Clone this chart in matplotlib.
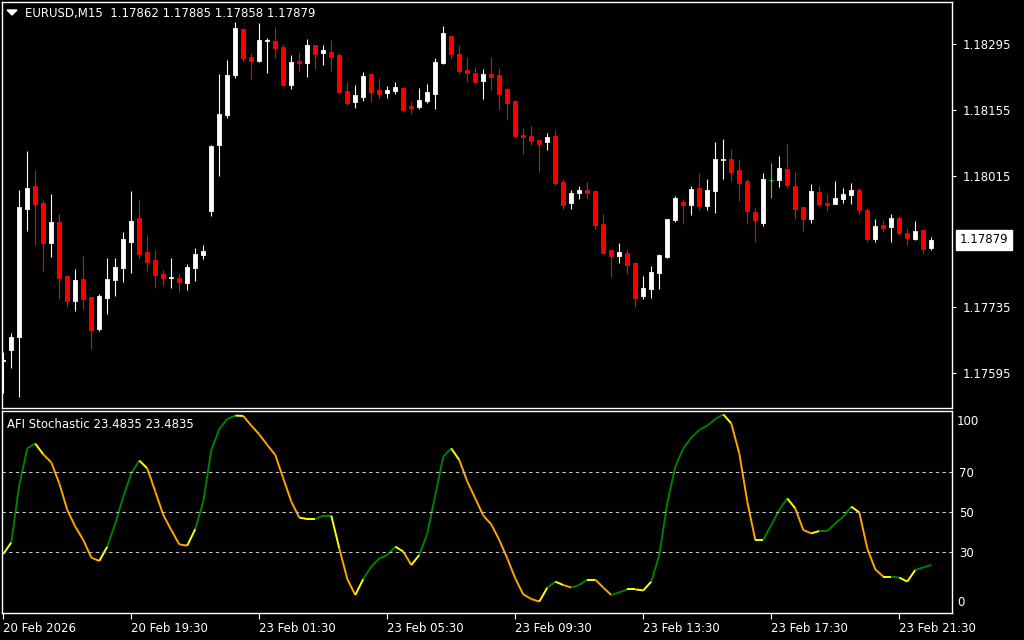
import matplotlib
matplotlib.use('Agg')
import matplotlib.pyplot as plt
import numpy as np
from matplotlib.collections import LineCollection
from matplotlib.patches import Polygon

symbol = 'EURUSD,M15'

opens = [1.17621, 1.17644, 1.17672, 1.17945, 1.17993, 1.17957, 1.17872, 1.17917, 1.17802, 1.17748,
         1.17795, 1.17757, 1.17689, 1.17755, 1.17793, 1.17819, 1.17874, 1.17925, 1.17853, 1.17836,
         1.17806, 1.17798, 1.17797, 1.17787, 1.17819, 1.17846, 1.17940, 1.18080, 1.18144, 1.18229,
         1.18327, 1.18268, 1.18259, 1.18302, 1.18302, 1.18289, 1.18208, 1.18259, 1.18255, 1.18293,
         1.18276, 1.18278, 1.18272, 1.18195, 1.18172, 1.18183, 1.18231, 1.18197, 1.18191, 1.18195,
         1.18202, 1.18163, 1.18161, 1.18174, 1.18189, 1.18255, 1.18312, 1.18274, 1.18240, 1.18234,
         1.18217, 1.18231, 1.18229, 1.18200, 1.18174, 1.18102, 1.18100, 1.18091, 1.18087, 1.18100,
         1.18002, 1.17957, 1.17978, 1.17985, 1.17983, 1.17912, 1.17857, 1.17844, 1.17851, 1.17829,
         1.17759, 1.17774, 1.17808, 1.17842, 1.17921, 1.17959, 1.17953, 1.17989, 1.17951, 1.17983,
         1.18048, 1.18051, 1.18027, 1.18004, 1.17938, 1.17914, 1.18006, 1.18006, 1.18029, 1.17993,
         1.17948, 1.17923, 1.17980, 1.17957, 1.17955, 1.17965, 1.17974, 1.17985, 1.17942, 1.17880,
         1.17910, 1.17906, 1.17925, 1.17893, 1.17880, 1.17900, 1.17862]
highs = [1.17640, 1.17681, 1.17985, 1.18068, 1.18027, 1.17963, 1.17976, 1.17934, 1.17804, 1.17817,
         1.17844, 1.17758, 1.17763, 1.17840, 1.17840, 1.17895, 1.17983, 1.17965, 1.17889, 1.17857,
         1.17814, 1.17840, 1.17808, 1.17827, 1.17861, 1.17868, 1.18080, 1.18231, 1.18261, 1.18342,
         1.18329, 1.18276, 1.18340, 1.18308, 1.18332, 1.18295, 1.18272, 1.18278, 1.18306, 1.18294,
         1.18293, 1.18304, 1.18276, 1.18215, 1.18208, 1.18236, 1.18234, 1.18223, 1.18206, 1.18215,
         1.18204, 1.18174, 1.18202, 1.18210, 1.18266, 1.18334, 1.18312, 1.18293, 1.18268, 1.18246,
         1.18242, 1.18268, 1.18244, 1.18204, 1.18176, 1.18117, 1.18121, 1.18093, 1.18106, 1.18112,
         1.18008, 1.17985, 1.17993, 1.18002, 1.17985, 1.17934, 1.17858, 1.17872, 1.17859, 1.17831,
         1.17802, 1.17823, 1.17848, 1.17923, 1.17972, 1.17965, 1.17993, 1.18021, 1.18008, 1.18087,
         1.18093, 1.18072, 1.18051, 1.18008, 1.17946, 1.18021, 1.18042, 1.18057, 1.18083, 1.18023,
         1.17948, 1.17997, 1.17993, 1.17976, 1.18004, 1.17989, 1.18000, 1.17989, 1.17946, 1.17923,
         1.17921, 1.17934, 1.17929, 1.17904, 1.17919, 1.17902, 1.17885]
lows = [1.17553, 1.17606, 1.17545, 1.17897, 1.17868, 1.17812, 1.17842, 1.17753, 1.17736, 1.17727,
        1.17731, 1.17647, 1.17685, 1.17721, 1.17759, 1.17789, 1.17808, 1.17838, 1.17812, 1.17776,
        1.17780, 1.17776, 1.17768, 1.17772, 1.17791, 1.17838, 1.17929, 1.18014, 1.18138, 1.18223,
        1.18259, 1.18221, 1.18258, 1.18234, 1.18266, 1.18206, 1.18200, 1.18236, 1.18225, 1.18242,
        1.18251, 1.18238, 1.18191, 1.18166, 1.18159, 1.18174, 1.18172, 1.18178, 1.18180, 1.18189,
        1.18151, 1.18146, 1.18157, 1.18170, 1.18157, 1.18254, 1.18263, 1.18231, 1.18215, 1.18212,
        1.18178, 1.18197, 1.18155, 1.18134, 1.18097, 1.18061, 1.18080, 1.18023, 1.18070, 1.17995,
        1.17944, 1.17944, 1.17965, 1.17965, 1.17902, 1.17848, 1.17799, 1.17829, 1.17806, 1.17736,
        1.17753, 1.17755, 1.17774, 1.17840, 1.17917, 1.17912, 1.17931, 1.17942, 1.17942, 1.17936,
        1.18008, 1.18004, 1.17961, 1.17912, 1.17874, 1.17908, 1.17968, 1.17991, 1.17989, 1.17923,
        1.17897, 1.17914, 1.17951, 1.17940, 1.17955, 1.17957, 1.17955, 1.17934, 1.17874, 1.17874,
        1.17895, 1.17874, 1.17889, 1.17868, 1.17879, 1.17848, 1.17858]
closes = [1.17623, 1.17672, 1.17949, 1.17989, 1.17955, 1.17872, 1.17917, 1.17797, 1.17748, 1.17793,
          1.17753, 1.17687, 1.17759, 1.17795, 1.17821, 1.17880, 1.17919, 1.17848, 1.17831, 1.17804,
          1.17797, 1.17799, 1.17789, 1.17821, 1.17848, 1.17855, 1.18078, 1.18146, 1.18229, 1.18329,
          1.18266, 1.18259, 1.18304, 1.18304, 1.18287, 1.18208, 1.18257, 1.18255, 1.18293, 1.18274,
          1.18283, 1.18268, 1.18193, 1.18170, 1.18187, 1.18227, 1.18193, 1.18189, 1.18197, 1.18204,
          1.18155, 1.18159, 1.18176, 1.18193, 1.18257, 1.18319, 1.18274, 1.18238, 1.18234, 1.18215,
          1.18231, 1.18225, 1.18189, 1.18170, 1.18100, 1.18097, 1.18089, 1.18083, 1.18097, 1.18000,
          1.17953, 1.17978, 1.17985, 1.17978, 1.17910, 1.17851, 1.17844, 1.17853, 1.17825, 1.17755,
          1.17776, 1.17810, 1.17846, 1.17923, 1.17968, 1.17953, 1.17987, 1.17951, 1.17985, 1.18051,
          1.18051, 1.18023, 1.18000, 1.17940, 1.17921, 1.18008, 1.18006, 1.18031, 1.17995, 1.17944,
          1.17923, 1.17983, 1.17955, 1.17953, 1.17968, 1.17976, 1.17985, 1.17942, 1.17880, 1.17908,
          1.17904, 1.17925, 1.17893, 1.17882, 1.17897, 1.17859, 1.17879]

# AFI Stochastic main line, one value per bar
stoch = [29.0, 34.8, 63.5, 81.8, 84.2, 78.8, 74.8, 64.3, 51.0, 42.7,
         36.0, 27.2, 25.5, 32.7, 44.3, 57.7, 69.3, 75.7, 71.8, 60.2,
         48.5, 41.0, 33.8, 33.2, 41.5, 55.2, 81.0, 91.5, 96.5, 98.2,
         98.0, 93.2, 88.8, 83.5, 78.5, 66.8, 55.2, 47.2, 46.5, 46.5,
         48.2, 48.2, 31.8, 16.5, 8.5, 16.5, 22.7, 26.8, 28.5, 32.7,
         30.2, 23.5, 28.5, 39.3, 58.5, 77.7, 81.8, 76.0, 65.2, 56.8,
         48.2, 43.8, 36.0, 26.8, 16.8, 8.8, 6.5, 5.2, 12.2, 15.2,
         13.5, 12.2, 13.5, 16.2, 16.2, 12.2, 8.5, 9.8, 11.3, 11.3,
         10.8, 15.2, 28.5, 54.5, 72.7, 81.8, 87.2, 91.0, 93.2, 96.5,
         98.8, 94.3, 79.3, 55.2, 36.0, 36.0, 43.5, 51.0, 56.8, 51.8,
         41.0, 39.3, 40.5, 40.5, 44.3, 47.7, 52.7, 49.8, 31.8, 21.3,
         17.7, 17.7, 17.2, 15.2, 21.0, 22.3, 23.4835]
# indicator buffer per bar: u = up, d = down, n = neutral
stoch_state = ("nnuuundddd" "dddnuuuund" "ddddnuuuuu" "ndddddddnn" "uunddnuuuu"
               "ndnuuuundd" "ddddddddnu" "nduundduun" "nnuuuuuuuu" "undddnuuun"
               "ddnuuuundd" "dnunnuu")
levels = [70, 50, 30]

price_ticks = [1.18295, 1.18155, 1.18015, 1.17735, 1.17595]
time_labels = ['20 Feb 2026', '20 Feb 19:30', '23 Feb 01:30', '23 Feb 05:30',
               '23 Feb 09:30', '23 Feb 13:30', '23 Feb 17:30', '23 Feb 21:30']
time_bars = [0, 16, 32, 48, 64, 80, 96, 112]

W, H = 1024, 640
FS = 8.5
fig = plt.figure(figsize=(W / 100, H / 100), dpi=100, facecolor='black')
ax1 = fig.add_axes([2 / W, 1 - 408 / H, 950 / W, 406 / H], facecolor='black')
ax2 = fig.add_axes([2 / W, 1 - 612.5 / H, 950 / W, 201.5 / H], facecolor='black')

x = np.arange(len(closes))
o = np.array(opens); c = np.array(closes)
cols = np.where(c > o, 'white', np.where(c < o, '#ff0000', '#00ff00'))

# candles
ax1.vlines(x, lows, highs, colors=cols, lw=0.8)
ax1.bar(x, np.maximum(np.abs(c - o), 0.000002), bottom=np.minimum(o, c), width=0.55,
        color=cols, edgecolor=cols, linewidth=0.6)

for ax in (ax1, ax2):
    ax.set_xlim(-0.1625, 118.59)
    for s in ax.spines.values():
        s.set_color('white')
        s.set_linewidth(1.0)

ax1.set_ylim(1.17521, 1.18385)
ax1.yaxis.tick_right()
ax1.set_yticks(price_ticks)
ax1.set_yticklabels([f'{p:.5f}' for p in price_ticks])
ax1.tick_params(axis='y', colors='white', labelsize=FS, length=3, pad=5, width=0.8)
ax1.set_xticks([])

# current price marker
ax1.annotate(f'{closes[-1]:.5f}', xy=(1.0, closes[-1]), xycoords=('axes fraction', 'data'),
             xytext=(7.5, 0), textcoords='offset pixels', va='center', ha='left',
             fontsize=FS, color='black',
             bbox=dict(boxstyle='square,pad=0.3', fc='white', ec='white'))

# title
fig.text(25 / W, 1 - 14 / H, f'{symbol}  {opens[-1]:.5f} {highs[-1]:.5f} {lows[-1]:.5f} {closes[-1]:.5f}',
         color='white', fontsize=FS, va='center', ha='left')
fig.patches.append(Polygon([(7 / W, 1 - 10 / H), (17 / W, 1 - 10 / H), (12 / W, 1 - 15 / H)],
                           closed=True, transform=fig.transFigure, fc='white', ec='white'))

# stochastic
colmap = {'u': '#008000', 'd': '#ffa500', 'n': '#ffff00'}
segs = [[(i - 1, stoch[i - 1]), (i, stoch[i])] for i in range(1, len(stoch))]
lc = LineCollection(segs, colors=[colmap[s] for s in stoch_state[1:]], linewidths=1.4)
ax2.add_collection(lc)
for lv in levels:
    ax2.axhline(lv, color='#c8c8c8', lw=0.8, ls=(0, (3, 3)))
ax2.set_ylim(-0.25, 100.5)
ax2.yaxis.tick_right()
ax2.set_yticks(levels)
ax2.set_yticklabels([str(v) for v in levels])
ax2.tick_params(axis='y', colors='white', labelsize=FS, length=0, pad=5)
ax2.annotate('100', xy=(1.0, 1.0), xycoords='axes fraction', xytext=(5, -4), textcoords='offset pixels',
             va='top', ha='left', fontsize=FS, color='white')
ax2.annotate('0', xy=(1.0, 0.0), xycoords='axes fraction', xytext=(5, 3), textcoords='offset pixels',
             va='bottom', ha='left', fontsize=FS, color='white')
ax2.text(5 / 950, 1 - 13 / 201.5, f'AFI Stochastic {stoch[-1]:.4f} {stoch[-1]:.4f}', transform=ax2.transAxes,
         color='white', fontsize=FS, va='center', ha='left')

ax2.set_xticks(time_bars)
ax2.set_xticklabels(time_labels, ha='left')
ax2.tick_params(axis='x', colors='white', labelsize=FS, length=4, pad=3, width=0.8)

fig.savefig('out.png', dpi=100, facecolor='black')
